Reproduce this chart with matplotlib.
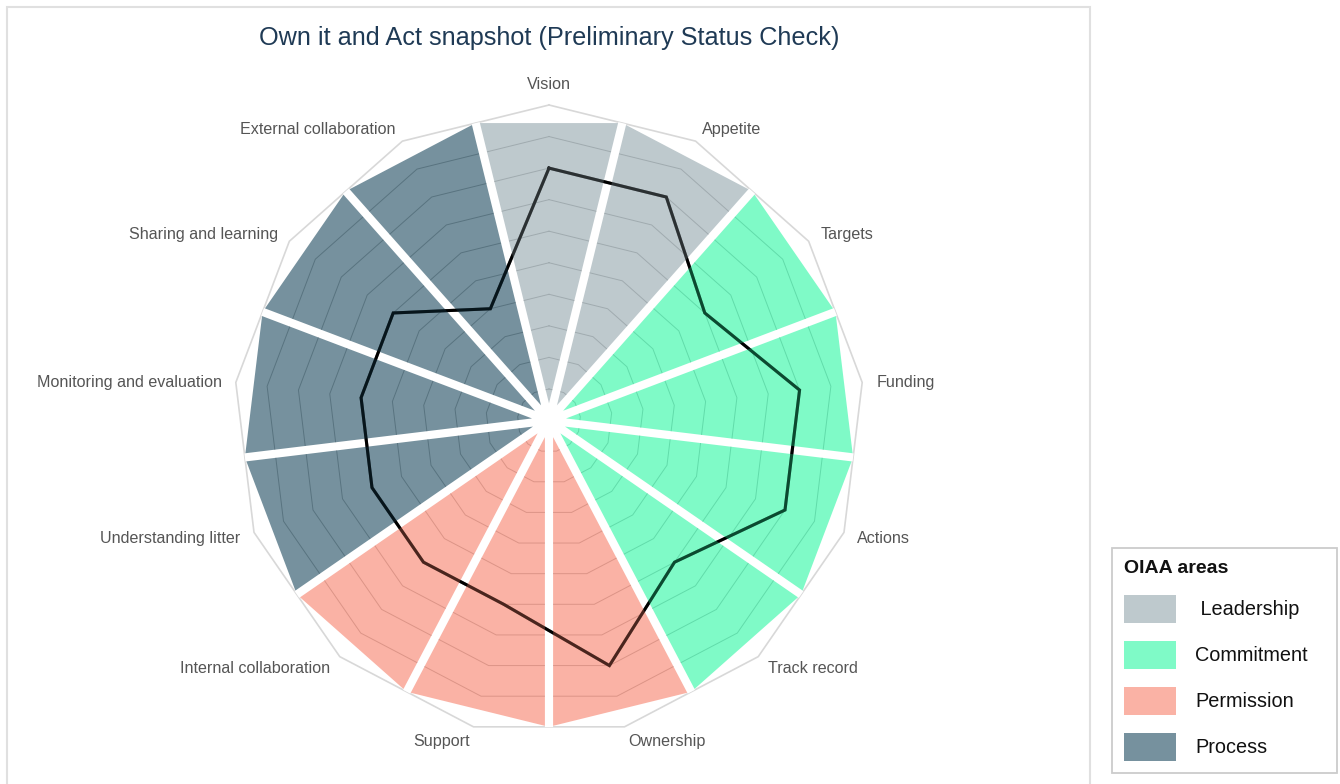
import numpy as np
import matplotlib
matplotlib.use("Agg")
import matplotlib.pyplot as plt
from matplotlib.patches import Polygon, Patch, Rectangle

plt.rcParams['font.family'] = ['Liberation Sans', 'DejaVu Sans']

# ---------------- data ----------------
categories = ["Vision", "Appetite", "Targets", "Funding", "Actions", "Track record",
              "Ownership", "Support", "Internal collaboration", "Understanding litter",
              "Monitoring and evaluation", "Sharing and learning", "External collaboration"]
areas = ["Leadership", "Leadership", "Commitment", "Commitment", "Commitment", "Commitment",
         "Permission", "Permission", "Permission", "Process", "Process", "Process", "Process"]
scores = [8, 8, 6, 8, 8, 6, 8, 6, 6, 6, 6, 6, 4]
bar_values = [10] * 13
grid_levels = list(range(1, 11))
area_names = ["Leadership", "Commitment", "Permission", "Process"]
legend_labels = [" Leadership", "Commitment", "Permission", "Process"]
area_colors = {"Leadership": "#93a5ac", "Commitment": "#2af7a3",
               "Permission": "#f77f69", "Process": "#1b485d"}
title = "Own it and Act snapshot (Preliminary Status Check)"

# ---------------- figure ----------------
W, H = 1340, 784
fig = plt.figure(figsize=(W / 100, H / 100), dpi=100)
cx, cy = 549, 420.5          # centre in pixels
unit = 31.55                 # pixels per level
axl, axr = cx - 400, cx + 400
axt, axb = cy - 350, cy + 350
ax = fig.add_axes([axl / W, (H - axb) / H, (axr - axl) / W, (axb - axt) / H])
ax.set_xlim(-400 / unit, 400 / unit)
ax.set_ylim(-350 / unit, 350 / unit)
ax.axis("off")

n = len(categories)
theta = np.arange(n) * 2 * np.pi / n
h = np.pi / n
gap = 0.26
d = gap / 2
alpha = 0.6

def pt(r, a):
    return np.array([r * np.sin(a), r * np.cos(a)])

# grid polygons
for lev in grid_levels:
    pts = np.array([pt(lev, a) for a in theta])
    pts = np.vstack([pts, pts[:1]])
    if lev == grid_levels[-1]:
        ax.plot(pts[:, 0], pts[:, 1], color="#d8d8d8", lw=1.2, zorder=1)
    else:
        ax.plot(pts[:, 0], pts[:, 1], color="#b4b4b4", lw=0.7, zorder=1)

# white gaps masking grid
for k in range(n):
    a = theta[k] - h
    rb = bar_values[k] * np.cos(h)
    p = pt(rb, a)
    ax.plot([0, p[0]], [0, p[1]], color="white", lw=gap * unit * 0.72,
            solid_capstyle="butt", zorder=2)

# score line (under the translucent bars, plus a translucent pass on top)
sv = np.array([pt(s, a) for s, a in zip(scores, theta)])
sv = np.vstack([sv, sv[:1]])
ax.plot(sv[:, 0], sv[:, 1], color="black", lw=2.2, zorder=3, solid_joinstyle="miter")
ax.plot(sv[:, 0], sv[:, 1], color="black", lw=2.2, zorder=5, alpha=0.5,
        solid_joinstyle="miter")

# bars
for k in range(n):
    t = theta[k]
    rb = bar_values[k] * np.cos(h)
    c = rb * np.cos(h)
    u1 = np.array([np.sin(t - h), np.cos(t - h)])
    n1 = np.array([np.cos(t - h), -np.sin(t - h)])
    u2 = np.array([np.sin(t + h), np.cos(t + h)])
    n2 = -np.array([np.cos(t + h), -np.sin(t + h)])
    tt = (c - d * np.sin(h)) / np.cos(h)
    q1 = d * n1 + tt * u1
    q2 = d * n2 + tt * u2
    apex = pt(d / np.sin(h), t)
    poly = Polygon([apex, q1, q2], closed=True, facecolor=area_colors[areas[k]],
                   alpha=alpha, edgecolor="none", zorder=4)
    ax.add_patch(poly)

# category labels
lr = 10.45
for k, name in enumerate(categories):
    p = pt(lr, theta[k])
    s = np.sin(theta[k])
    if abs(s) < 1e-6:
        ha, va = "center", "bottom"
    elif s > 0:
        ha, va = "left", "center"
    else:
        ha, va = "right", "center"
    ax.text(p[0], p[1] - 0.04, name, ha=ha, va=va, fontsize=11.6, color="#555555", zorder=6)

# title
fig.text(cx / W, 1 - 38 / H, title, ha="center", va="center", fontsize=18.2, color="#1f3a55")

# outer frame
fig.add_artist(Rectangle((7 / W, -0.02), (1090 - 7) / W, (H - 7) / H + 0.02,
                         transform=fig.transFigure, fill=False, edgecolor="#e0e0e0", lw=1.5))

# legend
handles = [Patch(facecolor=area_colors[a], alpha=alpha, edgecolor="none") for a in area_names]
leg = fig.legend(handles, legend_labels, title="OIAA areas", loc="upper left",
                 bbox_to_anchor=(1112 / W, 0, 225 / W, 1 - 548 / H),
                 bbox_transform=fig.transFigure, mode="expand",
                 fontsize=14.3, title_fontproperties={"size": 14, "weight": "bold"},
                 frameon=True, fancybox=False, edgecolor="#cccccc", framealpha=1,
                 handlelength=2.6, handleheight=1.8, labelspacing=0.9, handletextpad=1.0,
                 borderpad=0.6, borderaxespad=0, alignment="left")
leg.get_frame().set_linewidth(1.3)
for txt in leg.get_texts():
    txt.set_color("#111111")
leg.get_title().set_color("#111111")

fig.savefig("out.png", dpi=100)
